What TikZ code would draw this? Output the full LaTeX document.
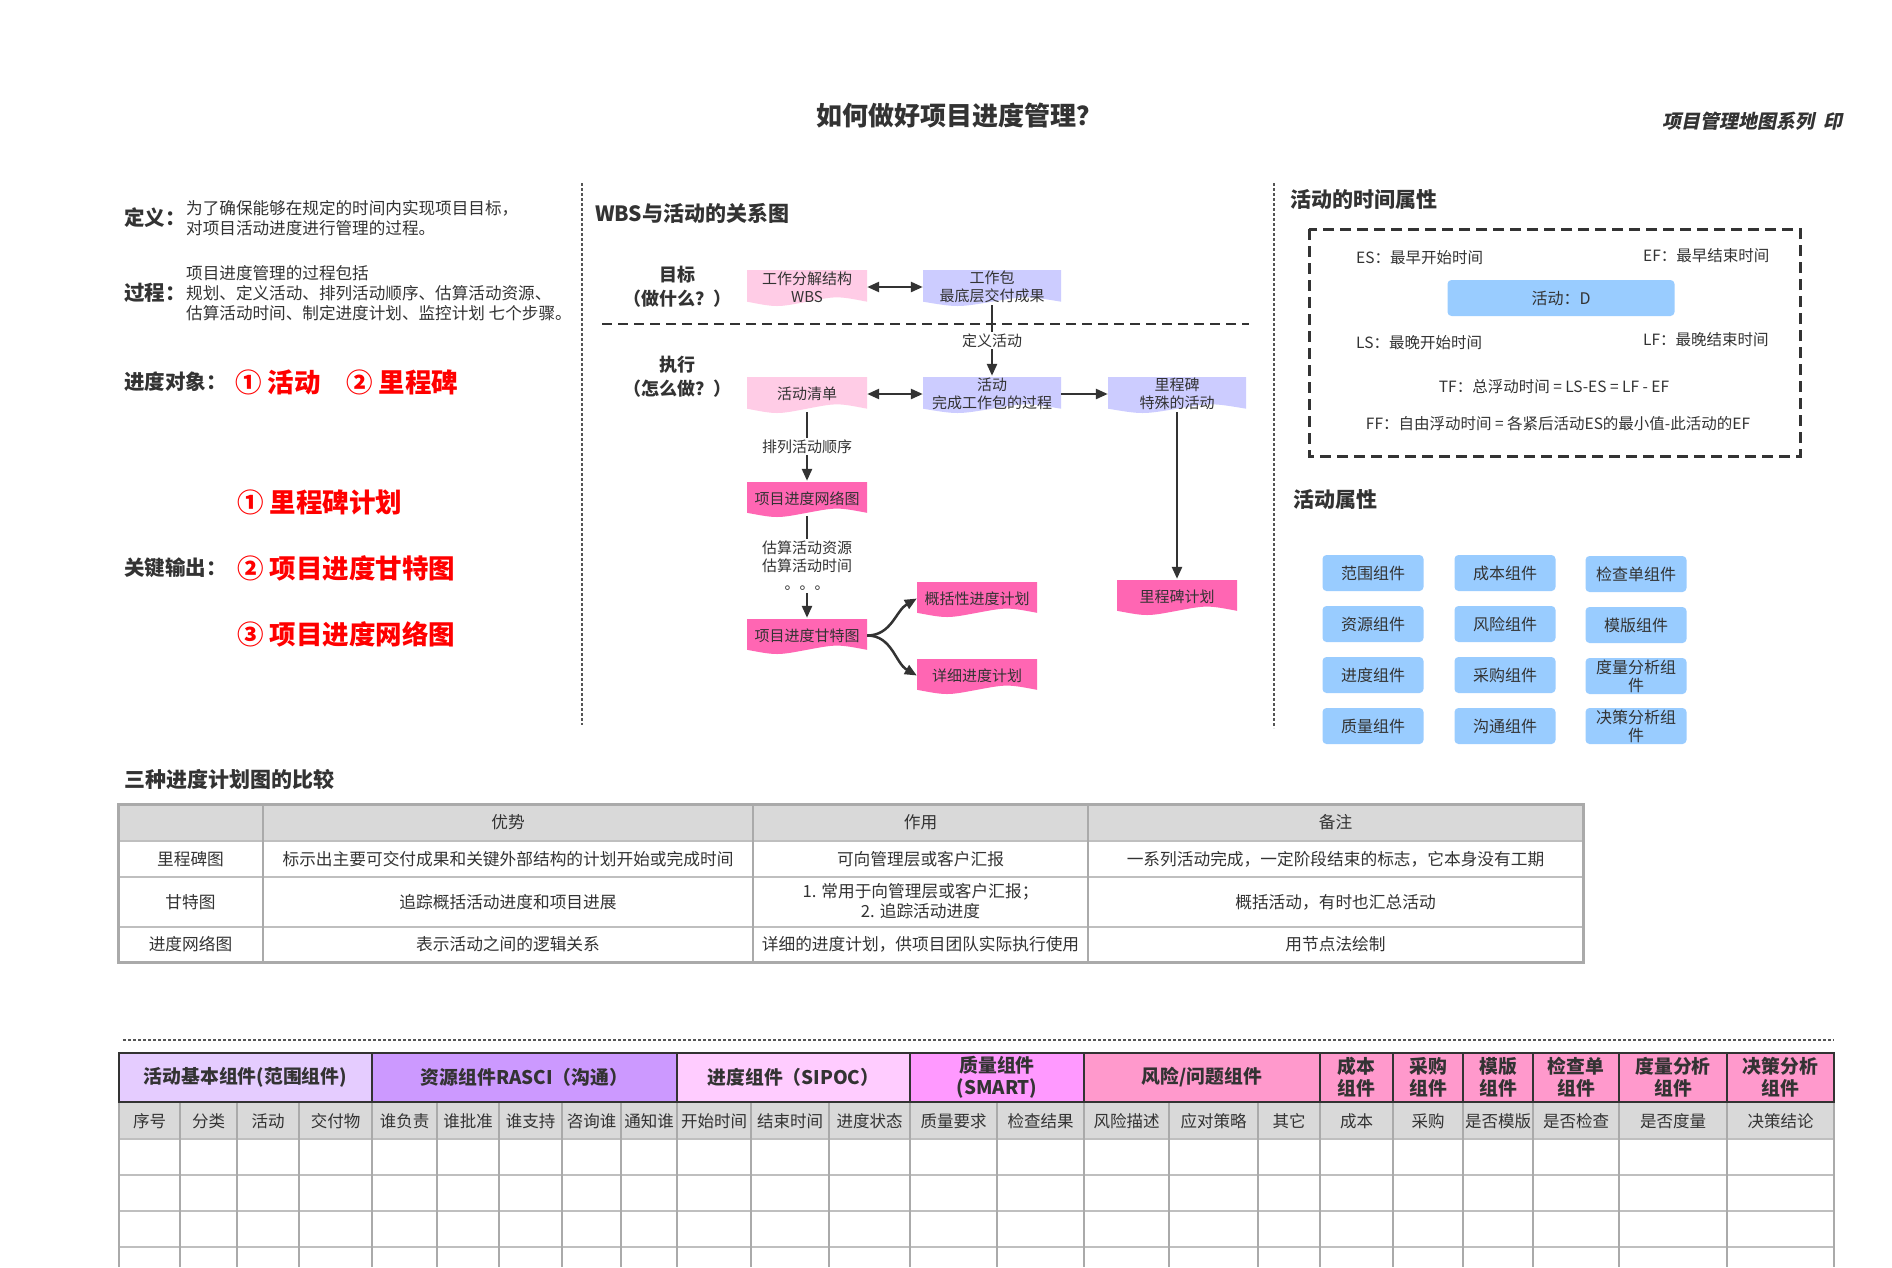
\documentclass[tikz,border=0pt]{standalone}
\usepackage{fontspec}
\setmainfont{Noto Sans CJK SC}
\newfontfamily\slfont{Noto Sans CJK SC}[FakeSlant=0.2]
\usetikzlibrary{arrows.meta}
\definecolor{txtc}{HTML}{333333}
\definecolor{linec}{HTML}{333333}
\definecolor{dotc}{HTML}{555555}
\definecolor{pinkL}{HTML}{FFCCE6}
\definecolor{pinkH}{HTML}{FF66B3}
\definecolor{lav}{HTML}{CCCCFF}
\definecolor{lblue}{HTML}{99CCFF}
\definecolor{hdrgray}{HTML}{D9D9D9}
\definecolor{gridc}{HTML}{AAAAAA}
\definecolor{gridl}{HTML}{BFBFBF}
\definecolor{gA}{HTML}{E5CCFF}
\definecolor{gB}{HTML}{CC99FF}
\definecolor{gC}{HTML}{FFCCFF}
\definecolor{gD}{HTML}{FF99FF}
\definecolor{gE}{HTML}{FF99CC}
\definecolor{redt}{HTML}{FF0000}
\tikzset{
  lbl/.style={inner sep=0pt, text=txtc},
  head/.style={lbl, font=\fontsize{21}{26}\selectfont\bfseries},
  keyl/.style={lbl, font=\fontsize{20.5}{24}\selectfont\bfseries},
  body/.style={lbl, font=\fontsize{16.6}{20}\selectfont},
  smalltxt/.style={lbl, font=\fontsize{15.5}{19}\selectfont},
  redbig/.style={inner sep=0pt, text=redt, font=\fontsize{26.5}{30}\selectfont\bfseries},
  boxtxt/.style={font=\fontsize{15}{18}\selectfont, text=txtc, align=center},
  arrowtip/.tip={Triangle[length=12pt,width=10pt]},
  conn/.style={draw=linec, line width=2.5pt, -arrowtip},
  biconn/.style={draw=linec, line width=2.5pt, arrowtip-arrowtip},
  edgelbl/.style={fill=white, inner sep=2pt, font=\fontsize{15}{18}\selectfont, text=txtc, align=center},
  comp/.style={fill=lblue, rounded corners=4pt, minimum width=101pt, minimum height=36pt, inner sep=0pt, font=\fontsize{16}{18}\selectfont, text=txtc, align=center},
  dotline/.style={draw=dotc, line width=2.5pt, dash pattern=on 2.5pt off 2.5pt},
  celltxt/.style={lbl, font=\fontsize{16.7}{20}\selectfont, align=center},
  grph/.style={lbl, font=\fontsize{18.8}{22}\selectfont\bfseries, align=center},
  subh/.style={lbl, font=\fontsize{16.5}{20}\selectfont},
}
% document-shaped box: name, x1, y1 (top), x2, y2 (bottom), colour, text
\newcommand\docnode[7]{%
  \fill[#6] (#2,#3) -- (#4,#3) -- (#4,{#5-0.12*(#5-#3)})
     .. controls ({#2+0.75*(#4-#2)},{#5-0.28*(#5-#3)}) .. ({0.5*(#2+#4)},{#5-0.12*(#5-#3)})
     .. controls ({#2+0.25*(#4-#2)},{#5+0.04*(#5-#3)}) .. (#2,{#5-0.12*(#5-#3)}) -- cycle;
  \node[boxtxt, inner sep=0pt, minimum width={#4-#2}, minimum height={#5-#3}] (#1) at ({0.5*(#2+#4)},{0.5*(#3+#5)-1}) {#7};}
% group header of bottom table: name, x1, x2, colour, text
\newcommand\grp[5]{%
  \draw[linec, line width=2pt, fill=#4] (#2,1053) rectangle (#3,1102);
  \node[grph] (#1) at ({0.5*(#2+#3)},1077.5) {#5};}
\begin{document}
\begin{tikzpicture}[x=1pt,y=-1pt]
\useasboundingbox (0,0) rectangle (1892,1267);
\fill[white] (0,0) rectangle (1892,1267);

% ---------- titles ----------
\node[lbl, font=\fontsize{26}{30}\selectfont\bfseries] (title) at (959,116) {如何做好项目进度管理？};
\node[lbl, anchor=east, font=\slfont\fontsize{19}{24}\selectfont\bfseries] (series) at (1843,121) {项目管理地图系列\hspace{9pt}印};

% ---------- left column ----------
\node[keyl, anchor=west] (defk) at (124,218) {定义：};
\node[body, anchor=west, align=left] (defv) at (186,218) {为了确保能够在规定的时间内实现项目目标，\\对项目活动进度进行管理的过程。};
\node[keyl, anchor=west] (prock) at (124,293) {过程：};
\node[body, anchor=west, align=left] (procv) at (186,293) {项目进度管理的过程包括\\规划、定义活动、排列活动顺序、估算活动资源、\\估算活动时间、制定进度计划、监控计划 七个步骤。};
\node[keyl, anchor=west] (objk) at (124,382) {进度对象：};
\node[redbig, anchor=west] (obj1) at (235,382) {① 活动};
\node[redbig, anchor=west] (obj2) at (346,382) {② 里程碑};
\node[redbig, anchor=west] (out1) at (237,502) {① 里程碑计划};
\node[keyl, anchor=west] (outk) at (124,568) {关键输出：};
\node[redbig, anchor=west] (out2) at (237,568) {② 项目进度甘特图};
\node[redbig, anchor=west] (out3) at (237,634) {③ 项目进度网络图};

% ---------- separators ----------
\draw[dotline] (582,183) -- (582,725);
\draw[dotline] (1274,183) -- (1274,728);
\draw[dotline] (123,1040) -- (1834,1040);

% ---------- WBS diagram ----------
\node[head, anchor=west] (wbst) at (595,213) {WBS与活动的关系图};
\node[lbl, font=\fontsize{18}{24}\selectfont\bfseries, align=center] (goal) at (677,287) {目标\\（做什么？）};
\node[lbl, font=\fontsize{18}{24}\selectfont\bfseries, align=center] (exec) at (677,377) {执行\\（怎么做？）};
\draw[linec, line width=2.5pt, dash pattern=on 10pt off 6pt] (602,324) -- (1249,324);

\docnode{wbs}{747}{270}{867}{306}{pinkL}{工作分解结构\\WBS}
\docnode{wp}{923}{270}{1061}{306}{lav}{工作包\\最底层交付成果}
\docnode{list}{747}{377}{867}{413}{pinkL}{活动清单}
\docnode{act}{923}{377}{1061}{413}{lav}{活动\\完成工作包的过程}
\docnode{ms}{1108}{377}{1246}{413}{lav}{里程碑\\特殊的活动}
\docnode{net}{747}{482}{867}{517}{pinkH}{项目进度网络图}
\docnode{gantt}{747}{619}{867}{654}{pinkH}{项目进度甘特图}
\docnode{sum}{917}{582}{1037}{617}{pinkH}{概括性进度计划}
\docnode{det}{917}{659}{1037}{694}{pinkH}{详细进度计划}
\docnode{msplan}{1117}{580}{1237}{615}{pinkH}{里程碑计划}

\draw[biconn] (wbs.east) -- (wp.west);
\draw[conn] (wp.south) -- node[edgelbl] (l1) {定义活动} (act.north);
\draw[biconn] (list.east) -- (act.west);
\draw[conn] (act.east) -- (ms.west);
\draw[conn] (list.south) -- node[edgelbl] (l2) {排列活动顺序} (net.north);
\draw[conn] (net.south) -- node[edgelbl, pos=0.49] (l3) {估算活动资源\\估算活动时间\\。。。} (gantt.north);
\draw[conn] (ms.south) -- (msplan.north);
\draw[conn] (gantt.east) to[out=0, in=210] (sum.west);
\draw[conn] (gantt.east) to[out=0, in=150] (det.west);

% ---------- time attributes ----------
\node[head, anchor=west] (timet) at (1290,199) {活动的时间属性};
\draw[linec, line width=3pt, dash pattern=on 11pt off 6pt] (1309,229) rectangle (1800,456);
\node[smalltxt, anchor=west] (es) at (1356,258) {ES：最早开始时间};
\node[smalltxt, anchor=west] (ef) at (1643,256) {EF：最早结束时间};
\node[fill=lblue, rounded corners=4pt, minimum width=227pt, minimum height=36pt, inner sep=0pt, font=\fontsize{16}{20}\selectfont, text=txtc] (actd) at (1561,298) {活动：D};
\node[smalltxt, anchor=west] (ls) at (1356,343) {LS：最晚开始时间};
\node[smalltxt, anchor=west] (lf) at (1643,340) {LF：最晚结束时间};
\node[smalltxt] (tf) at (1554,387) {TF：总浮动时间 = LS-ES = LF - EF};
\node[smalltxt] (ff) at (1558,424) {FF：自由浮动时间 = 各紧后活动ES的最小值-此活动的EF};

% ---------- activity attributes ----------
\node[head, anchor=west] (attrt) at (1293,499) {活动属性};
\node[comp] (c11) at (1373,573) {范围组件};
\node[comp] (c12) at (1505,573) {成本组件};
\node[comp] (c13) at (1636,574) {检查单组件};
\node[comp] (c21) at (1373,624) {资源组件};
\node[comp] (c22) at (1505,624) {风险组件};
\node[comp] (c23) at (1636,625) {模版组件};
\node[comp] (c31) at (1373,675) {进度组件};
\node[comp] (c32) at (1505,675) {采购组件};
\node[comp] (c33) at (1636,676) {度量分析组\\件};
\node[comp] (c41) at (1373,726) {质量组件};
\node[comp] (c42) at (1505,726) {沟通组件};
\node[comp] (c43) at (1636,726) {决策分析组\\件};

% ---------- comparison table ----------
\node[head, anchor=west] (cmpt) at (124,779) {三种进度计划图的比较};
\fill[hdrgray] (118,804) rectangle (1583,841);
\foreach \yy in {841,877,927} \draw[gridl, line width=2pt] (118,\yy) -- (1583,\yy);
\foreach \xx in {263,753,1088} \draw[gridc, line width=1.2pt] (\xx,804) -- (\xx,962);
\draw[gridc, line width=3pt] (118,804) rectangle (1583,962);
\node[celltxt] (h2) at (508,822.5) {优势};
\node[celltxt] (h3) at (920.5,822.5) {作用};
\node[celltxt] (h4) at (1335.5,822.5) {备注};
\node[celltxt] (r1a) at (190.5,859) {里程碑图};
\node[celltxt] (r1b) at (508,859) {标示出主要可交付成果和关键外部结构的计划开始或完成时间};
\node[celltxt] (r1c) at (920.5,859) {可向管理层或客户汇报};
\node[celltxt] (r1d) at (1335.5,859) {一系列活动完成，一定阶段结束的标志，它本身没有工期};
\node[celltxt] (r2a) at (190.5,902) {甘特图};
\node[celltxt] (r2b) at (508,902) {追踪概括活动进度和项目进展};
\node[celltxt] (r2c) at (920.5,901) {1. 常用于向管理层或客户汇报；\\2. 追踪活动进度};
\node[celltxt] (r2d) at (1335.5,902) {概括活动，有时也汇总活动};
\node[celltxt] (r3a) at (190.5,944.5) {进度网络图};
\node[celltxt] (r3b) at (508,944.5) {表示活动之间的逻辑关系};
\node[celltxt] (r3c) at (920.5,944.5) {详细的进度计划，供项目团队实际执行使用};
\node[celltxt] (r3d) at (1335.5,944.5) {用节点法绘制};

% ---------- component table ----------
\fill[hdrgray] (119,1102) rectangle (1834,1139);
\foreach \yy in {1139,1175,1211,1247} \draw[gridl, line width=2pt] (119,\yy) -- (1834,\yy);
\foreach \xx in {180,237,299,372,437,499,562,621,677,751,829,910,997,1084,1169,1258,1320,1393,1463,1619,1727}
  \draw[gridc, line width=1.2pt] (\xx,1102) -- (\xx,1267);
\draw[gridc, line width=2.2pt] (1533,1102) -- (1533,1267);
\draw[gridc, line width=2.2pt] (119,1102) -- (119,1267);
\draw[gridc, line width=2.2pt] (1834,1102) -- (1834,1267);
\grp{gr1}{119}{372}{gA}{活动基本组件(范围组件)}
\grp{gr2}{372}{677}{gB}{资源组件RASCI（沟通）}
\grp{gr3}{677}{910}{gC}{进度组件（SIPOC）}
\grp{gr4}{910}{1084}{gD}{质量组件\\(SMART)}
\grp{gr5}{1084}{1320}{gE}{风险/问题组件}
\grp{gr6}{1320}{1393}{gE}{成本\\组件}
\grp{gr7}{1393}{1463}{gE}{采购\\组件}
\grp{gr8}{1463}{1533}{gE}{模版\\组件}
\grp{gr9}{1533}{1619}{gE}{检查单\\组件}
\grp{gr10}{1619}{1727}{gE}{度量分析\\组件}
\grp{gr11}{1727}{1834}{gE}{决策分析\\组件}
\foreach \a/\b/\t [count=\i] in {119/180/序号,180/237/分类,237/299/活动,299/372/交付物,372/437/谁负责,437/499/谁批准,499/562/谁支持,562/621/咨询谁,621/677/通知谁,677/751/开始时间,751/829/结束时间,829/910/进度状态,910/997/质量要求,997/1084/检查结果,1084/1169/风险描述,1169/1258/应对策略,1258/1320/其它,1320/1393/成本,1393/1463/采购,1463/1533/是否模版,1533/1619/是否检查,1619/1727/是否度量,1727/1834/决策结论}
  \node[subh] (sh\i) at ({0.5*(\a+\b)},1121) {\t};
\end{tikzpicture}
\end{document}
